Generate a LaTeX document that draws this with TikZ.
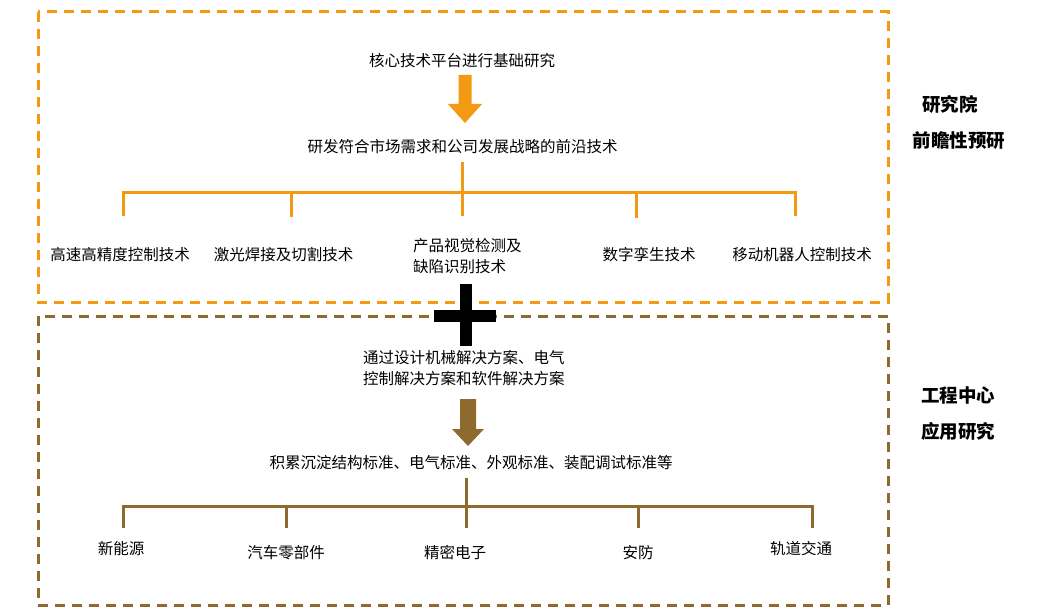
\documentclass[tikz,border=0pt]{standalone}
\usepackage{fontspec}
\newfontfamily\cjk{Noto Sans CJK SC}
\definecolor{orng}{HTML}{F39A12}
\definecolor{brwn}{HTML}{8E6A2E}
\begin{document}
\begin{tikzpicture}[x=1pt,y=-1pt,
  txt/.style={font=\cjk\fontsize{15.5}{21.5}\selectfont, inner sep=0pt, text=black},
  side/.style={font=\cjk\bfseries\fontsize{18.5}{22}\selectfont, inner sep=0pt, text=black},
  obox/.style={draw=orng, line width=3pt, dash pattern=on 10pt off 7pt},
  bbox/.style={draw=brwn, line width=3pt, dash pattern=on 10pt off 7pt},
  oline/.style={draw=orng, line width=3pt},
  bline/.style={draw=brwn, line width=3pt}]
\useasboundingbox (0,0) rectangle (1051,612);
\fill[white] (0,0) rectangle (1051,612);
% frames
\draw[obox] (38,12) rectangle (888,302);
\draw[bbox] (38,316) rectangle (888,605);
% top section
\node[txt] (t1) at (462,61) {核心技术平台进行基础研究};
\fill[orng] (458.5,75) -- (471.5,75) -- (471.5,104) -- (482,104) -- (465,123) -- (448,104) -- (458.5,104) -- cycle;
\node[txt] (t2) at (462.5,147) {研发符合市场需求和公司发展战略的前沿技术};
\coordinate (os) at (462,162);
\coordinate (oj) at (462,193);
\coordinate (o1) at (123,193);
\coordinate (o2) at (291,193);
\coordinate (o4) at (636,193);
\coordinate (o5) at (795,193);
\coordinate (o1b) at (123,216);
\coordinate (o2b) at (291,217);
\coordinate (o3b) at (462,216);
\coordinate (o4b) at (636,218);
\coordinate (o5b) at (795,216);
\draw[oline] (os) -- (oj);
\draw[oline, line cap=rect] (o1) -- (o5);
\draw[oline] (o1) -- (o1b);
\draw[oline] (o2) -- (o2b);
\draw[oline] (oj) -- (o3b);
\draw[oline] (o4) -- (o4b);
\draw[oline] (o5) -- (o5b);
\node[txt] (a1) at (120,255) {高速高精度控制技术};
\node[txt] (a2) at (283.5,255) {激光焊接及切割技术};
\node[txt, anchor=west, align=left] (a3) at (413,256) {产品视觉检测及\\缺陷识别技术};
\node[txt] (a4) at (649,255) {数字孪生技术};
\node[txt] (a5) at (802,255) {移动机器人控制技术};
% plus
\fill[black] (460,284) rectangle (472,346);
\fill[black] (434,310) rectangle (496,322);
% bottom section
\node[txt, anchor=west, align=left] (m1) at (363,368) {通过设计机械解决方案、电气\\控制解决方案和软件解决方案};
\fill[brwn] (460,399) -- (476,399) -- (476,429) -- (484,429) -- (468,446) -- (452,429) -- (460,429) -- cycle;
\node[txt] (m2) at (471,463) {积累沉淀结构标准、电气标准、外观标准、装配调试标准等};
\coordinate (bs) at (466,478);
\coordinate (bj) at (466,506);
\coordinate (b1) at (123,506);
\coordinate (b2) at (286,506);
\coordinate (b4) at (638,506);
\coordinate (b5) at (812,506);
\coordinate (b1b) at (123,528);
\coordinate (b2b) at (286,528);
\coordinate (b3b) at (466,528);
\coordinate (b4b) at (638,528);
\coordinate (b5b) at (812,528);
\draw[bline] (bs) -- (bj);
\draw[bline, line cap=rect] (b1) -- (b5);
\draw[bline] (b1) -- (b1b);
\draw[bline] (b2) -- (b2b);
\draw[bline] (bj) -- (b3b);
\draw[bline] (b4) -- (b4b);
\draw[bline] (b5) -- (b5b);
\node[txt] (c1) at (121,549) {新能源};
\node[txt] (c2) at (286,553) {汽车零部件};
\node[txt] (c3) at (455,553) {精密电子};
\node[txt] (c4) at (638,553) {安防};
\node[txt] (c5) at (801,549) {轨道交通};
% side labels
\node[side] (s1) at (950,104) {研究院};
\node[side] (s2) at (959,141) {前瞻性预研};
\node[side] (s3) at (958,395) {工程中心};
\node[side] (s4) at (958,431) {应用研究};
\end{tikzpicture}
\end{document}
